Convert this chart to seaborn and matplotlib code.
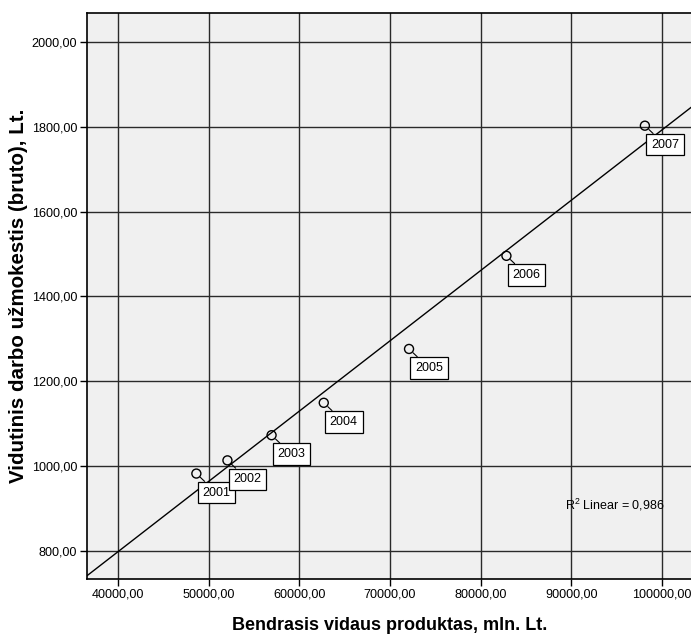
import numpy as np
import pandas as pd
import matplotlib
matplotlib.use("Agg")
import matplotlib.pyplot as plt
import seaborn as sns

# Lithuanian GDP vs. average gross monthly wage, 2001-2007
years = ["2001", "2002", "2003", "2004", "2005", "2006", "2007"]
gdp = [48640, 52070, 56940, 62700, 72110, 82860, 98140]
wage = [982.5, 1013.6, 1072.9, 1149.3, 1276.2, 1495.7, 1802.4]
x_ticks = [40000, 50000, 60000, 70000, 80000, 90000, 100000]
y_ticks = [800, 1000, 1200, 1400, 1600, 1800, 2000]
r2_label = "R$^2$ Linear = 0,986"

df = pd.DataFrame({"year": years, "gdp": gdp, "wage": wage})

sns.set_theme(style="white")
plt.rcParams["font.family"] = ["Liberation Sans", "DejaVu Sans"]
plt.rcParams["text.color"] = "black"
plt.rcParams["axes.labelcolor"] = "black"
plt.rcParams["mathtext.fontset"] = "custom"
plt.rcParams["mathtext.rm"] = "Liberation Sans"

fig = plt.figure(figsize=(6.91, 6.42), dpi=100)
ax = fig.add_axes([87 / 691, 63 / 642, 606 / 691, 566 / 642])
ax.set_facecolor("#F0F0F0")

xlim = (36570, 103450)
ylim = (734, 2068)

# fit line spanning the full axis width
slope, intercept = np.polyfit(df["gdp"], df["wage"], 1)
xx = np.array(xlim)
ax.plot(xx, slope * xx + intercept, color="black", lw=1.0, zorder=3)

sns.scatterplot(data=df, x="gdp", y="wage", ax=ax, marker="o", s=42,
                facecolor="none", edgecolor="black", linewidth=1.0, zorder=4)

for _, r in df.iterrows():
    ax.annotate(r["year"], (r["gdp"], r["wage"]), xytext=(20, -19),
                textcoords="offset pixels", ha="center", va="center",
                fontsize=9, zorder=5,
                bbox=dict(boxstyle="square,pad=0.38", fc="white", ec="black", lw=0.9),
                arrowprops=dict(arrowstyle="-", color="black", lw=0.8,
                                shrinkA=0, shrinkB=4))

ax.text(89280, 908, r2_label, fontsize=9, ha="left", va="center", zorder=5)

ax.set_xlim(*xlim)
ax.set_ylim(*ylim)
ax.set_xticks(x_ticks)
ax.set_yticks(y_ticks)
ax.set_xticklabels([f"{v:.2f}".replace(".", ",") for v in x_ticks], fontsize=9.1)
ax.set_yticklabels([f"{v:.2f}".replace(".", ",") for v in y_ticks], fontsize=9.1)
ax.grid(True, color="#2a2a2a", lw=1.0, zorder=1)
ax.set_axisbelow(True)
ax.tick_params(axis="both", direction="out", length=5, width=1, color="black",
               bottom=True, left=True, pad=2, labelcolor="black")
for side in ["left", "bottom", "top", "right"]:
    ax.spines[side].set_color("black")
    ax.spines[side].set_linewidth(1.2)

ax.set_xlabel("Bendrasis vidaus produktas, mln. Lt.", fontsize=13,
              fontweight="bold", labelpad=12)
ax.set_ylabel("Vidutinis darbo užmokestis (bruto), Lt.", fontsize=14.8,
              fontweight="bold", labelpad=3)

fig.savefig("out.png", dpi=100, facecolor="white")
